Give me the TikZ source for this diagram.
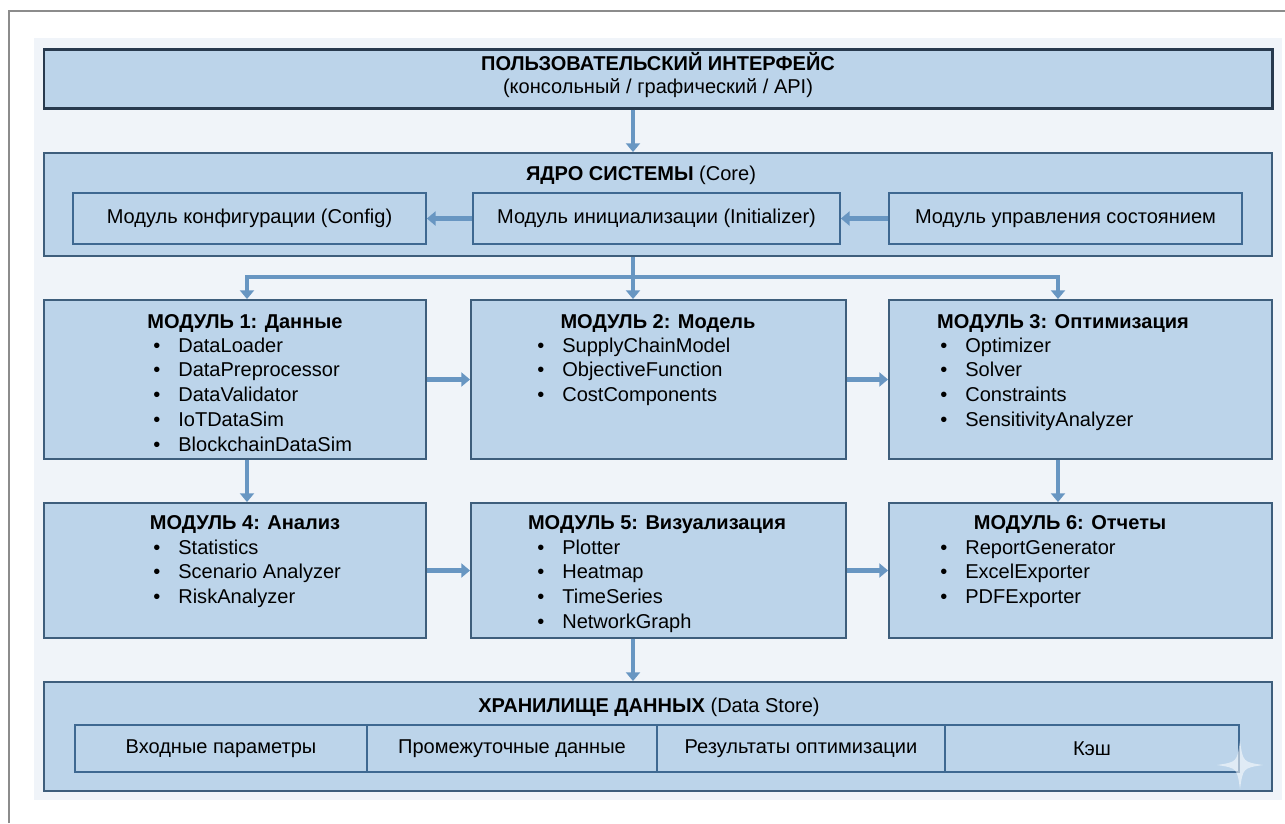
\documentclass[tikz,border=0pt]{standalone}
\usepackage{fontspec}
\setmainfont{Liberation Sans}
\usetikzlibrary{fit,arrows.meta}
\definecolor{boxfill}{RGB}{188,212,234}
\definecolor{boxline}{RGB}{62,94,124}
\definecolor{uiline}{RGB}{40,58,78}
\definecolor{cellline}{RGB}{62,104,145}
\definecolor{arrowblue}{RGB}{104,150,194}
\definecolor{backblue}{RGB}{240,244,249}
\definecolor{framegray}{RGB}{140,140,140}
\newcommand{\diagfont}{\fontsize{11.4}{14.1}\selectfont}
\newcommand{\itm}{\makebox[0.5cm][l]{\textbullet}}
\tikzset{
  panel/.style={draw=boxline, fill=boxfill, line width=1.1pt, inner sep=0pt},
  cellbox/.style={draw=cellline, fill=boxfill, line width=1pt, inner sep=0pt, font=\diagfont, minimum height=1.02cm},
  storecell/.style={cellbox, minimum height=0.94cm},
  txt/.style={font=\diagfont, inner sep=0pt, anchor=base},
  head/.style={txt, font=\diagfont\bfseries},
  itemlist/.style={font=\diagfont, inner sep=0pt, anchor=base west},
  link/.style={draw=arrowblue, line width=2.6pt},
  arr/.style={link, ->}
}

\begin{document}
\begin{tikzpicture}[x=0.02cm, y=-0.02cm, >={Triangle[length=5pt,width=8pt]}]
\useasboundingbox (0,0) rectangle (1285,823);
\fill[backblue] (34,38) rectangle (1282,800);
\draw[framegray, line width=0.8pt] (9,823) -- (9,11) -- (1285,11);

% user interface
\node[panel, draw=uiline, line width=1.7pt, fit={(44,49) (1272,108)}] (ui) {};
\node[head] (uititle) at (658,70) {ПОЛЬЗОВАТЕЛЬСКИЙ ИНТЕРФЕЙС};
\node[txt] (uisub) at (658,93) {(консольный / графический / API)};

% core
\node[panel, fit={(44,153) (1272,256)}] (core) {};
\node[txt] (coretitle) at (641,180) {\textbf{ЯДРО СИСТЕМЫ} (Core)};
\node[cellbox, minimum width=7.06cm] (config) at (249.5,218.5) {Модуль конфигурации (Config)};
\node[cellbox, minimum width=7.34cm] (init) at (656.5,218.5) {Модуль инициализации (Initializer)};
\node[cellbox, minimum width=7.06cm] (state) at (1065.5,218.5) {Модуль управления состоянием};

% modules
\node[panel, fit={(44,300) (426,459)}] (m1) {};
\node[panel, fit={(471,300) (846,459)}] (m2) {};
\node[panel, fit={(889,300) (1272,459)}] (m3) {};
\node[panel, fit={(44,503) (426,638)}] (m4) {};
\node[panel, fit={(471,503) (846,638)}] (m5) {};
\node[panel, fit={(889,503) (1272,638)}] (m6) {};

\node[head] (m1title) at (245,328) {МОДУЛЬ 1: Данные};
\node[itemlist] (m1list) at (153,352) {\begin{tabular}[t]{@{}l@{}}\itm DataLoader\\ \itm DataPreprocessor\\ \itm DataValidator\\ \itm IoTDataSim\\ \itm BlockchainDataSim\end{tabular}};
\node[head] (m2title) at (658,328) {МОДУЛЬ 2: Модель};
\node[itemlist] (m2list) at (537,352) {\begin{tabular}[t]{@{}l@{}}\itm SupplyChainModel\\ \itm ObjectiveFunction\\ \itm CostComponents\end{tabular}};
\node[head] (m3title) at (1063,328) {МОДУЛЬ 3: Оптимизация};
\node[itemlist] (m3list) at (940,352) {\begin{tabular}[t]{@{}l@{}}\itm Optimizer\\ \itm Solver\\ \itm Constraints\\ \itm SensitivityAnalyzer\end{tabular}};
\node[head] (m4title) at (245,529) {МОДУЛЬ 4: Анализ};
\node[itemlist] (m4list) at (153,554) {\begin{tabular}[t]{@{}l@{}}\itm Statistics\\ \itm Scenario Analyzer\\ \itm RiskAnalyzer\end{tabular}};
\node[head] (m5title) at (657,529) {МОДУЛЬ 5: Визуализация};
\node[itemlist] (m5list) at (537,554) {\begin{tabular}[t]{@{}l@{}}\itm Plotter\\ \itm Heatmap\\ \itm TimeSeries\\ \itm NetworkGraph\end{tabular}};
\node[head] (m6title) at (1070,529) {МОДУЛЬ 6: Отчеты};
\node[itemlist] (m6list) at (940,554) {\begin{tabular}[t]{@{}l@{}}\itm ReportGenerator\\ \itm ExcelExporter\\ \itm PDFExporter\end{tabular}};

% data store
\node[panel, fit={(44,682) (1272,791)}] (store) {};
\node[txt] (storetitle) at (649,712) {\textbf{ХРАНИЛИЩЕ ДАННЫХ} (Data Store)};
\node[storecell, minimum width=5.84cm] (input) at (221,748.5) {Входные параметры};
\node[storecell, minimum width=5.8cm] (interim) at (512,748.5) {Промежуточные данные};
\node[storecell, minimum width=5.76cm] (results) at (801,748.5) {Результаты оптимизации};
\node[storecell, minimum width=5.88cm] (cache) at (1092,748.5) {Кэш};

% connectors
\coordinate (hub) at (633,277);
\coordinate (d1) at (247,277);
\coordinate (d3) at (1058,277);
\draw[arr] (ui.south -| hub) -- (core.north -| hub);
\draw[arr] (init.west) -- (config.east);
\draw[arr] (state.west) -- (init.east);
\draw[link] (core.south -| hub) -- (hub);
\draw[arr] (hub) -- (m2.north -| hub);
\draw[arr, line join=miter] (hub) -| (m1.north -| d1);
\draw[arr, line join=miter] (hub) -| (m3.north -| d3);
\draw[arr] (m1.east) -- (m2.west);
\draw[arr] (m2.east) -- (m3.west);
\draw[arr] (m4.east) -- (m5.west);
\draw[arr] (m5.east) -- (m6.west);
\draw[arr] (m1.south -| d1) -- (m4.north -| d1);
\draw[arr] (m3.south -| d3) -- (m6.north -| d3);
\draw[arr] (m5.south -| hub) -- (store.north -| hub);

% corner mark
\fill[white, opacity=0.55] (1240,741) .. controls (1243,762) .. (1263,765) .. controls (1243,768) .. (1240,789) .. controls (1237,768) .. (1217,765) .. controls (1237,762) .. (1240,741);
\end{tikzpicture}
\end{document}
